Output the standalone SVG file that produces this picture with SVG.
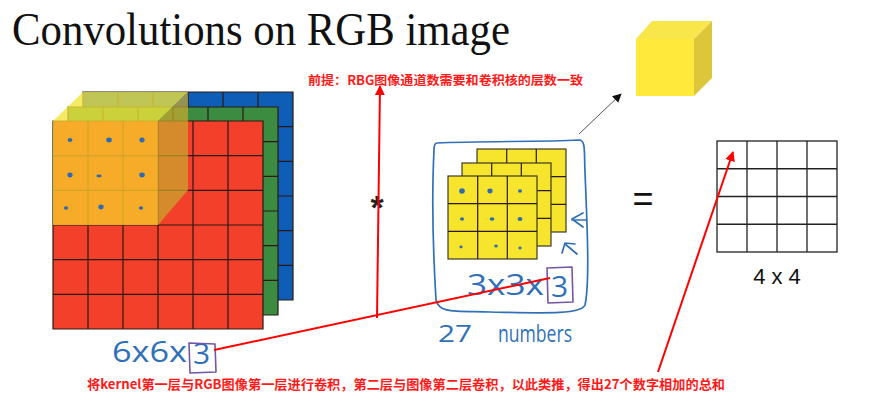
<svg xmlns="http://www.w3.org/2000/svg" width="869" height="406" viewBox="0 0 869 406">
<defs>
<style>
.grid{fill:none;stroke:#2a1a12;stroke-width:1.2}
.hand{fill:none;stroke:#3070b8;stroke-width:1.7;stroke-linecap:round;stroke-linejoin:round}
.handtxt{font-family:"Open Sans","DejaVu Sans",sans-serif;font-weight:400;fill:#3070b8}
.purple{fill:none;stroke:#7456a6;stroke-width:1.6;stroke-linejoin:round}
.note{font-family:"Noto Sans CJK SC","Liberation Sans",sans-serif;font-weight:bold;fill:#ff1a1a}
.red{stroke:#ff0000;stroke-width:2;fill:none}
.kgrid{fill:#f6e52c;stroke:#3d3a25;stroke-width:1.2}
.dot{fill:#2f6bb0}
</style>
<marker id="redhead" viewBox="0 0 10 10" refX="9" refY="5" markerWidth="5" markerHeight="5" orient="auto">
<path d="M0,0 L10,5 L0,10 Z" fill="#ff0000"/>
</marker>
<marker id="blackhead" viewBox="0 0 10 10" refX="9" refY="5" markerWidth="9" markerHeight="9" orient="auto" markerUnits="userSpaceOnUse">
<path d="M0,0 L10,5 L0,10 Z" fill="#111"/>
</marker>
<g id="grid6">
<path class="grid" d="M0,0 H210 V208 H0 Z M35,0 V208 M70,0 V208 M105,0 V208 M140,0 V208 M175,0 V208 M0,34.7 H210 M0,69.3 H210 M0,104 H210 M0,138.7 H210 M0,173.3 H210"/>
</g>
<g id="kgrid3">
<rect class="kgrid" x="0" y="0" width="89" height="83"/>
<path class="grid" stroke="#3d3a25" d="M29.7,0 V83 M59.3,0 V83 M0,27.7 H89 M0,55.3 H89"/>
</g>
</defs>
<rect x="0" y="0" width="869" height="406" fill="#ffffff"/>

<g id="title">
<text x="12" y="45" font-family="Liberation Serif, serif" font-size="46" textLength="498" lengthAdjust="spacingAndGlyphs" fill="#111">Convolutions on RGB image</text>
</g>

<g id="rgb-image">
<g id="layer-blue" transform="translate(83,92)">
<rect x="0" y="0" width="210" height="208" fill="#0e5eb8"/>
<use href="#grid6"/>
</g>
<g id="layer-green" transform="translate(68,107)">
<rect x="0" y="0" width="210" height="208" fill="#3b8c40"/>
<use href="#grid6"/>
</g>
<g id="layer-red" transform="translate(53,121)">
<rect x="0" y="0" width="210" height="208" fill="#f3402b"/>
<use href="#grid6"/>
</g>
<g id="filter-cube">
<polygon points="53,121 83,92 188,92 158,121" fill="#f2e43a" fill-opacity="0.78"/>
<polygon points="158,121 188,92 188,190 158,225" fill="#c9a72c" fill-opacity="0.72"/>
<rect x="53" y="121" width="105" height="104" fill="#f7c52a" fill-opacity="0.82"/>
<g class="dot">
<ellipse cx="70" cy="140" rx="2.4" ry="2"/>
<ellipse cx="109" cy="140" rx="2.8" ry="2.4"/>
<ellipse cx="142" cy="140" rx="2.6" ry="2.4"/>
<ellipse cx="70" cy="175" rx="2.6" ry="2.4"/>
<ellipse cx="99" cy="176" rx="2.6" ry="1.4"/>
<ellipse cx="142" cy="175" rx="2.8" ry="2.4"/>
<ellipse cx="66" cy="208" rx="2.2" ry="1.8"/>
<ellipse cx="101" cy="207" rx="2.6" ry="2.4"/>
<ellipse cx="141" cy="208" rx="2.2" ry="1.8"/>
</g>
</g>
<g id="label-6x6x3">
<text class="handtxt" x="112" y="362" font-size="30" textLength="75" lengthAdjust="spacingAndGlyphs">6x6x</text>
<text class="handtxt" x="193" y="364" font-size="30">3</text>
<path class="purple" d="M189,343 L215,344 L216,372 L190,373 Z"/>
</g>
</g>

<g id="operator-star">
<text x="377" y="219" font-family="Liberation Sans, sans-serif" font-size="34" font-weight="bold" text-anchor="middle" fill="#222">*</text>
</g>

<g id="kernel">
<path class="hand" d="M437,143 C480,141 540,142 579,140 C586,140 584,152 585,172 C587,222 590,282 585,305 C581,315 540,313 490,312 C452,311 439,313 436,300 C433,250 432,190 434,150 C434,145 435,143 437,143 Z"/>
<use href="#kgrid3" x="477" y="149"/>
<use href="#kgrid3" x="462" y="163"/>
<use href="#kgrid3" x="448" y="176"/>
<g class="dot">
<ellipse cx="462" cy="191" rx="2.8" ry="2.8"/>
<ellipse cx="490" cy="191" rx="2.6" ry="2.4"/>
<ellipse cx="520" cy="191" rx="2" ry="1.8"/>
<ellipse cx="462" cy="219" rx="2" ry="1.8"/>
<ellipse cx="492" cy="219" rx="2.4" ry="1.8"/>
<ellipse cx="520" cy="219" rx="2.4" ry="2"/>
<ellipse cx="461" cy="247" rx="1.6" ry="1.4"/>
<ellipse cx="496" cy="246" rx="1.8" ry="1.6"/>
<ellipse cx="520" cy="248" rx="1.6" ry="1.4"/>
</g>
<path class="hand" d="M583,213 L572,219 L583,227 M572,220 L586,220"/>
<path class="hand" d="M562,253 L565,243 L575,244 M565,244 L577,254"/>
<text class="handtxt" x="467" y="295" font-size="30" textLength="77" lengthAdjust="spacingAndGlyphs">3x3x</text>
<text class="handtxt" x="551" y="297" font-size="30">3</text>
<path class="purple" d="M547,268 L572,267 L573,302 L548,303 Z"/>
<text class="handtxt" x="438" y="342" font-size="24" textLength="34" lengthAdjust="spacingAndGlyphs">27</text>
<text class="handtxt" x="498" y="342" font-size="24" textLength="74" lengthAdjust="spacingAndGlyphs">numbers</text>
</g>

<g id="cube-output">
<polygon points="636,39 652,21 712,21 694,39" fill="#f9e64a"/>
<polygon points="694,39 712,21 712,78 694,96" fill="#dcc73a"/>
<rect x="636" y="39" width="58" height="57" fill="#ffe93b"/>
</g>

<g id="operator-equals">
<text x="643" y="211" font-family="Liberation Sans, sans-serif" font-size="36" text-anchor="middle" fill="#111">=</text>
</g>

<g id="output-4x4">
<rect x="717" y="141" width="120" height="111" fill="#ffffff" stroke="#222" stroke-width="1.3"/>
<path d="M747,141 V252 M777,141 V252 M807,141 V252 M717,168.75 H837 M717,196.5 H837 M717,224.25 H837" stroke="#222" stroke-width="1.3" fill="none"/>
<text x="777" y="284" font-family="Liberation Sans, sans-serif" font-size="22" text-anchor="middle" fill="#111">4 x 4</text>
</g>

<g id="notes">
<text class="note" x="308" y="85" font-size="12.5" textLength="275" lengthAdjust="spacingAndGlyphs">前提：RBG图像通道数需要和卷积核的层数一致</text>
<text class="note" x="87" y="389" font-size="13" textLength="638" lengthAdjust="spacingAndGlyphs">将kernel第一层与RGB图像第一层进行卷积，第二层与图像第二层卷积，以此类推，得出27个数字相加的总和</text>
</g>

<g id="connectors">
<line class="red" x1="377" y1="318" x2="380" y2="86" marker-end="url(#redhead)"/>
<line class="red" x1="214" y1="350" x2="550" y2="278"/>
<line class="red" x1="658" y1="372" x2="733" y2="152" marker-end="url(#redhead)"/>
<line x1="579" y1="134" x2="621" y2="94" stroke="#555" stroke-width="1" marker-end="url(#blackhead)"/>
</g>
</svg>
